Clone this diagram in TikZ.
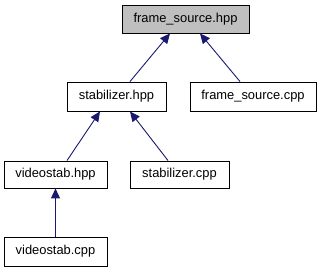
\documentclass[tikz,border=0pt]{standalone}
\usepackage{fontspec}
\setmainfont{Liberation Sans}
\usetikzlibrary{arrows.meta}
\definecolor{edgeblue}{RGB}{25,25,112}
\definecolor{filegray}{RGB}{191,191,191}

\tikzset{
  file/.style={draw=black, line width=0.9pt, fill=white, rectangle, inner sep=0pt,
    font=\fontsize{12.9}{15}\selectfont},
  dep/.style={-{Triangle[length=10pt,width=9pt]}, edgeblue, line width=0.9pt},
}

\begin{document}
\begin{tikzpicture}[x=1pt, y=-1pt]
  \useasboundingbox (0,0) rectangle (321,272);
  % Header files and sources
  \node[file, fill=filegray, minimum width=127pt, minimum height=28pt] (fsh) at (185.5,19) {frame\_source.hpp};
  \node[file, minimum width=99pt, minimum height=29pt] (sh) at (116.5,96.5) {stabilizer.hpp};
  \node[file, minimum width=126pt, minimum height=29pt] (fsc) at (253,96.5) {frame\_source.cpp};
  \node[file, minimum width=103pt, minimum height=27pt] (vh) at (55.5,174.5) {videostab.hpp};
  \node[file, minimum width=99pt, minimum height=27pt] (sc) at (179.5,174.5) {stabilizer.cpp};
  \node[file, minimum width=103pt, minimum height=29pt] (vc) at (55.5,251.5) {videostab.cpp};
  % Include edges
  \draw[dep] ([xshift=13.5pt]sh.north) -- ([xshift=-15.5pt]fsh.south);
  \draw[dep] ([xshift=-13pt]fsc.north) -- ([xshift=14.5pt]fsh.south);
  \draw[dep] ([xshift=11.5pt]vh.north) -- ([xshift=-16.5pt]sh.south);
  \draw[dep] ([xshift=-11.5pt]sc.north) -- ([xshift=13.5pt]sh.south);
  \draw[dep] (vc.north) -- (vh.south);
\end{tikzpicture}
\end{document}
